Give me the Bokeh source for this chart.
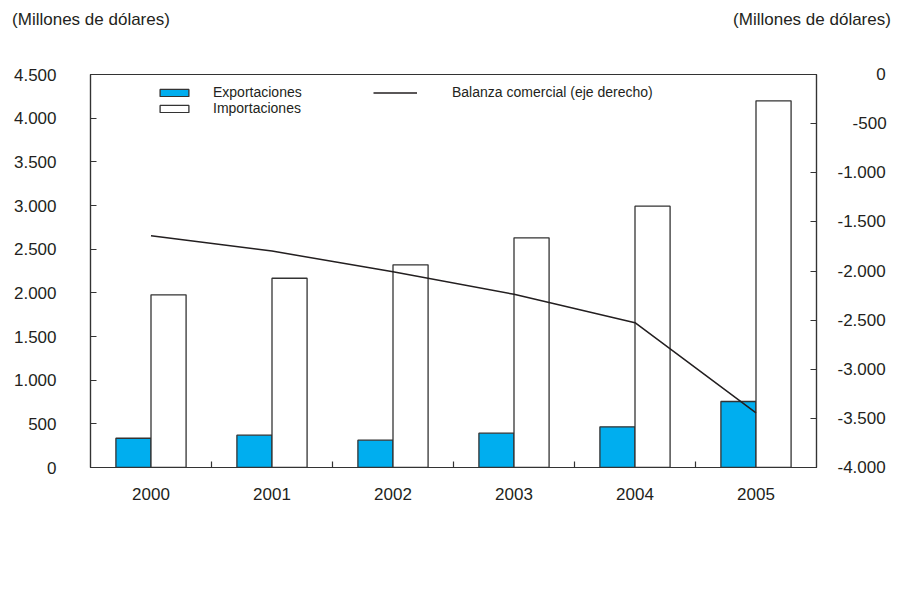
from bokeh.plotting import figure
from bokeh.models import (Range1d, LinearAxis, FixedTicker,
                          Legend, LegendItem, ColumnDataSource)
from bokeh.transform import dodge
from bokeh.embed import file_html
from bokeh.resources import INLINE

years = ["2000", "2001", "2002", "2003", "2004", "2005"]
exportaciones = [335, 370, 313, 393, 466, 756]
importaciones = [1977, 2167, 2321, 2630, 2992, 4199]
balanza = [-1642, -1797, -2008, -2237, -2526, -3443]

left_ticks = [0, 500, 1000, 1500, 2000, 2500, 3000, 3500, 4000, 4500]
left_labels = ["0", "500", "1.000", "1.500", "2.000", "2.500", "3.000", "3.500", "4.000", "4.500"]
right_ticks = [-4000, -3500, -3000, -2500, -2000, -1500, -1000, -500, 0]
right_labels = ["-4.000", "-3.500", "-3.000", "-2.500", "-2.000", "-1.500", "-1.000", "-500", "0"]
unit_label = "(Millones de dólares)"

FONT = "'Liberation Sans', Arial, sans-serif"
TXT = "#231f20"
AX = "#333333"
BLUE = "#00aeef"
FS = "17px"

W, H = 897, 593
FL, FR, FT, FB = 90, 816, 74, 467          # plot-area box on the page

# category slots: year i occupies [i, i+1] on the x scale, centred at i + 0.5
centers = [i + 0.5 for i in range(len(years))]
bounds = [float(i) for i in range(1, len(years))]

src = ColumnDataSource(dict(year=years, xpos=centers, exp=exportaciones,
                            imp=importaciones, bal=balanza))

p = figure(width=W, height=H, x_range=Range1d(0, len(years)),
           y_range=Range1d(0, 4500), output_backend="svg", toolbar_location=None,
           x_axis_location=None, y_axis_location=None,
           min_border_left=FL, min_border_right=W - FR, min_border_top=FT,
           min_border_bottom=H - FB)
p.extra_y_ranges = {"right": Range1d(-4000, 0)}
# page-pixel range used only to place the two unit notes above the plot
p.extra_x_ranges = {"page": Range1d(FL, FR)}
p.xgrid.visible = False
p.ygrid.visible = False
p.outline_line_color = AX
p.outline_line_width = 1.2

r_exp = p.vbar(x=dodge("xpos", -0.145), top="exp", width=0.29, source=src,
               fill_color=BLUE, line_color=AX, line_width=1.3)
r_imp = p.vbar(x=dodge("xpos", 0.145), top="imp", width=0.29, source=src,
               fill_color="white", line_color=AX, line_width=1.3)
r_bal = p.line(x="xpos", y="bal", source=src, y_range_name="right",
               line_color="#231f20", line_width=1.5)


def style_axis(ax):
    ax.axis_line_color = AX
    ax.axis_line_width = 1.2
    ax.major_tick_line_color = AX
    ax.major_tick_line_width = 1.2
    ax.major_label_text_font = FONT
    ax.major_label_text_font_size = FS
    ax.major_label_text_color = TXT


# left axis
yl = LinearAxis(ticker=FixedTicker(ticks=left_ticks, minor_ticks=[]),
                major_label_overrides={t: l for t, l in zip(left_ticks, left_labels)})
style_axis(yl)
yl.major_tick_in = 6
yl.major_tick_out = 0
yl.minor_tick_line_color = None
yl.major_label_standoff = 34
p.add_layout(yl, "left")

# right axis: labels right-aligned by padding with width-matched spaces
SPACE_FOR = {"-": "\u2004", ".": "\u2008"}
widest = max(right_labels, key=len)


def pad(lbl):
    prefix = widest[:len(widest) - len(lbl)]
    return "".join(SPACE_FOR.get(c, "\u2007") for c in prefix) + lbl


yr = LinearAxis(y_range_name="right", ticker=FixedTicker(ticks=right_ticks, minor_ticks=[]),
                major_label_overrides={t: pad(l) for t, l in zip(right_ticks, right_labels)})
style_axis(yr)
yr.major_tick_in = 6
yr.major_tick_out = 0
yr.minor_tick_line_color = None
yr.major_label_standoff = 21
p.add_layout(yr, "right")

# bottom axis: year labels at slot centres, short ticks between slots
xa = LinearAxis(ticker=FixedTicker(ticks=centers, minor_ticks=bounds),
                major_label_overrides={c: y for c, y in zip(centers, years)})
style_axis(xa)
xa.major_tick_in = 0
xa.major_tick_out = 0
xa.minor_tick_in = 6
xa.minor_tick_out = 0
xa.minor_tick_line_color = AX
xa.minor_tick_line_width = 1.2
xa.major_label_standoff = 20
p.add_layout(xa, "below")

# unit notes above the two value axes
note_pos = [90.5, 811.5]
top = LinearAxis(x_range_name="page", ticker=FixedTicker(ticks=note_pos, minor_ticks=[]),
                 major_label_overrides={x: unit_label for x in note_pos})
style_axis(top)
top.axis_line_color = None
top.major_tick_line_color = None
top.minor_tick_line_color = None
top.major_tick_in = 0
top.major_tick_out = 0
top.major_label_standoff = 46
p.add_layout(top, "above")


def make_legend(items, loc, gw, standoff):
    return Legend(items=items, location=loc, orientation="vertical",
                  glyph_width=gw, glyph_height=9, label_standoff=standoff,
                  label_height=9, padding=0, margin=0, spacing=0,
                  border_line_color=None, background_fill_alpha=0,
                  label_text_font=FONT, label_text_font_size="14px", label_text_color=TXT)


# legends kept inside the plot area (free band along the top)
leg_bars = make_legend([LegendItem(label="Exportaciones", renderers=[r_exp]),
                        LegendItem(label="Importaciones", renderers=[r_imp])], (66, 351), 36, 21)
leg_line = make_legend([LegendItem(label="Balanza comercial (eje derecho)", renderers=[r_bal])],
                       (283, 367), 44, 35)
p.add_layout(leg_bars, "center")
p.add_layout(leg_line, "center")

open("out.html", "w").write(file_html(p, INLINE))
